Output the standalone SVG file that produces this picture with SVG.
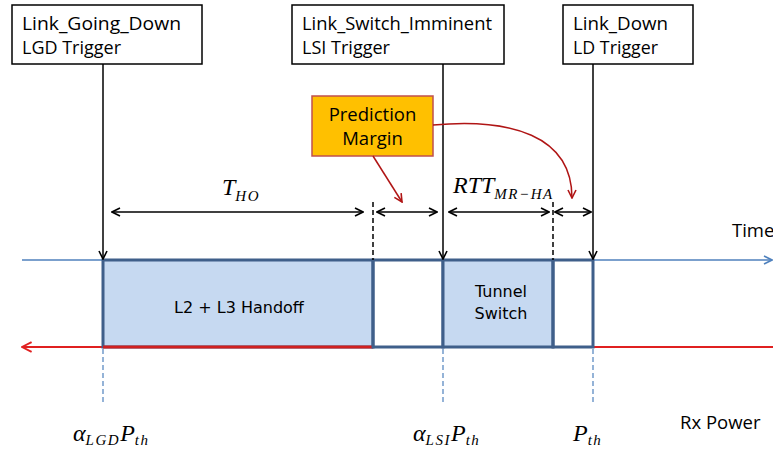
<svg xmlns="http://www.w3.org/2000/svg" width="773" height="449" viewBox="0 0 773 449">
  <style>
    .lbl { font-family: "Open Sans", "Liberation Sans", sans-serif; font-size: 18.5px; fill: #000; }
    .box { fill: #fff; stroke: #000; stroke-width: 1.5; }
    .slot { stroke: #3F5F8A; stroke-width: 3; }
    .math { font-family: "Liberation Serif", "DejaVu Serif", serif; font-style: italic; fill: #000; font-size: 24px; }
    .sub { font-size: 15px; letter-spacing: 1.5px; }
    .trig { stroke: #000; stroke-width: 1.5; fill: none; }
    .dim { stroke: #000; stroke-width: 1.5; fill: none; }
    .dash { stroke: #000; stroke-width: 1.5; stroke-dasharray: 5 3; }
    .pdash { stroke: #4F81BD; stroke-width: 1.2; stroke-dasharray: 5 3; }
    .red { stroke: #B01515; stroke-width: 1.5; fill: none; }
    .slotTxt { font-family: "DejaVu Sans", sans-serif; font-size: 16px; fill: #000; }
  </style>
  <defs>
    <marker id="open" viewBox="0 0 10 10" refX="9" refY="5" markerWidth="10" markerHeight="10" markerUnits="userSpaceOnUse" orient="auto-start-reverse">
      <path d="M1,1 L9,5 L1,9" fill="none" stroke="#000" stroke-width="1.6"/>
    </marker>
    <marker id="openBlue" viewBox="0 0 10 10" refX="9" refY="5" markerWidth="10" markerHeight="10" markerUnits="userSpaceOnUse" orient="auto">
      <path d="M1,1 L9,5 L1,9" fill="none" stroke="#4F81BD" stroke-width="1.6"/>
    </marker>
    <marker id="openRed" viewBox="0 0 10 10" refX="9" refY="5" markerWidth="12" markerHeight="12" markerUnits="userSpaceOnUse" orient="auto">
      <path d="M1,1 L9,5 L1,9" fill="none" stroke="#E02020" stroke-width="1.6"/>
    </marker>
    <marker id="openDarkRed" viewBox="0 0 10 10" refX="9" refY="5" markerWidth="10" markerHeight="10" markerUnits="userSpaceOnUse" orient="auto">
      <path d="M1,1 L9,5 L1,9" fill="none" stroke="#B01515" stroke-width="1.6"/>
    </marker>
  </defs>
  <rect width="773" height="449" fill="#fff"/>

  <!-- Axes: time (top) and received power (bottom) -->
  <g id="axes">
    <line x1="22" y1="260" x2="772" y2="260" stroke="#4F81BD" stroke-width="1.5" marker-end="url(#openBlue)"/>
    <line x1="773" y1="347" x2="22" y2="347" stroke="#E02020" stroke-width="2" marker-end="url(#openRed)"/>
    <text class="lbl" x="732" y="237" font-size="17">Time</text>
    <text class="lbl" x="680" y="429" font-size="17">Rx Power</text>
  </g>

  <!-- Trigger boxes -->
  <g id="lgd">
    <rect class="box" x="12" y="5" width="190" height="59"/>
    <text class="lbl" x="22" y="30" textLength="159" lengthAdjust="spacingAndGlyphs">Link_Going_Down</text>
    <text class="lbl" x="22" y="54" textLength="99" lengthAdjust="spacingAndGlyphs">LGD Trigger</text>
  </g>
  <g id="lsi">
    <rect class="box" x="292" y="5" width="212" height="59"/>
    <text class="lbl" x="302" y="30" textLength="190" lengthAdjust="spacingAndGlyphs">Link_Switch_Imminent</text>
    <text class="lbl" x="302" y="54" textLength="88" lengthAdjust="spacingAndGlyphs">LSI Trigger</text>
  </g>
  <g id="ld">
    <rect class="box" x="563" y="5" width="130" height="59"/>
    <text class="lbl" x="573" y="30" textLength="95" lengthAdjust="spacingAndGlyphs">Link_Down</text>
    <text class="lbl" x="573" y="54" textLength="85" lengthAdjust="spacingAndGlyphs">LD Trigger</text>
  </g>

  <!-- Prediction margin callout -->
  <g id="margin">
    <rect x="312" y="96" width="121" height="60" fill="#FFC000" stroke="#C0504D" stroke-width="1.5"/>
    <text class="lbl" x="372.5" y="121" text-anchor="middle">Prediction</text>
    <text class="lbl" x="372.5" y="145" text-anchor="middle">Margin</text>
  </g>

  <!-- Time slots -->
  <g id="handoff">
    <rect class="slot" x="103" y="260" width="270" height="87" fill="#C6D9F1"/>
    <line x1="103" y1="347" x2="373" y2="347" stroke="#D02020" stroke-width="3"/>
    <text class="slotTxt" x="239" y="313" text-anchor="middle">L2 + L3 Handoff</text>
  </g>
  <g id="gap1">
    <rect class="slot" x="373" y="260" width="70" height="87" fill="none"/>
  </g>
  <g id="tunnel">
    <rect class="slot" x="443" y="260" width="110" height="87" fill="#C6D9F1"/>
    <text class="slotTxt" x="501" y="297" text-anchor="middle" font-size="16.5">Tunnel</text>
    <text class="slotTxt" x="501" y="319" text-anchor="middle" font-size="16.5">Switch</text>
  </g>
  <g id="gap2">
    <rect class="slot" x="553" y="260" width="40" height="87" fill="none"/>
  </g>

  <!-- Connectors -->
  <g id="connectors">
    <line class="trig" x1="103" y1="64" x2="103" y2="259" marker-end="url(#open)"/>
    <line class="trig" x1="443" y1="64" x2="443" y2="259" marker-end="url(#open)"/>
    <line class="trig" x1="593" y1="64" x2="593" y2="259" marker-end="url(#open)"/>

    <line class="dash" x1="373" y1="202" x2="373" y2="260"/>
    <line class="dash" x1="553" y1="202" x2="553" y2="260"/>

    <line class="dim" x1="112" y1="212" x2="363" y2="212" marker-start="url(#open)" marker-end="url(#open)"/>
    <line class="dim" x1="377" y1="212" x2="437" y2="212" marker-start="url(#open)" marker-end="url(#open)"/>
    <line class="dim" x1="449" y1="212" x2="549" y2="212" marker-start="url(#open)" marker-end="url(#open)"/>
    <line class="dim" x1="555" y1="212" x2="591" y2="212" marker-start="url(#open)" marker-end="url(#open)"/>

    <line class="red" x1="373" y1="156" x2="402" y2="202" marker-end="url(#openDarkRed)"/>
    <path class="red" d="M433,125 C510,118 572,135 572,198" marker-end="url(#openDarkRed)"/>

    <line class="pdash" x1="103" y1="349" x2="103" y2="403"/>
    <line class="pdash" x1="443" y1="349" x2="443" y2="403"/>
    <line class="pdash" x1="593" y1="349" x2="593" y2="403"/>
  </g>

  <!-- Math labels -->
  <g id="labels">
    <text class="math" x="222" y="195">T<tspan class="sub" dy="6">HO</tspan></text>
    <text class="math" x="453" y="193">RTT<tspan class="sub" dy="6" letter-spacing="0.5">MR−HA</tspan></text>
    <text class="math" x="73" y="441">α<tspan class="sub" dy="4">LGD</tspan><tspan dy="-4">P</tspan><tspan class="sub" dy="4">th</tspan></text>
    <text class="math" x="413" y="441">α<tspan class="sub" dy="4">LSI</tspan><tspan dy="-4">P</tspan><tspan class="sub" dy="4">th</tspan></text>
    <text class="math" x="573" y="441">P<tspan class="sub" dy="4">th</tspan></text>
  </g>
</svg>
